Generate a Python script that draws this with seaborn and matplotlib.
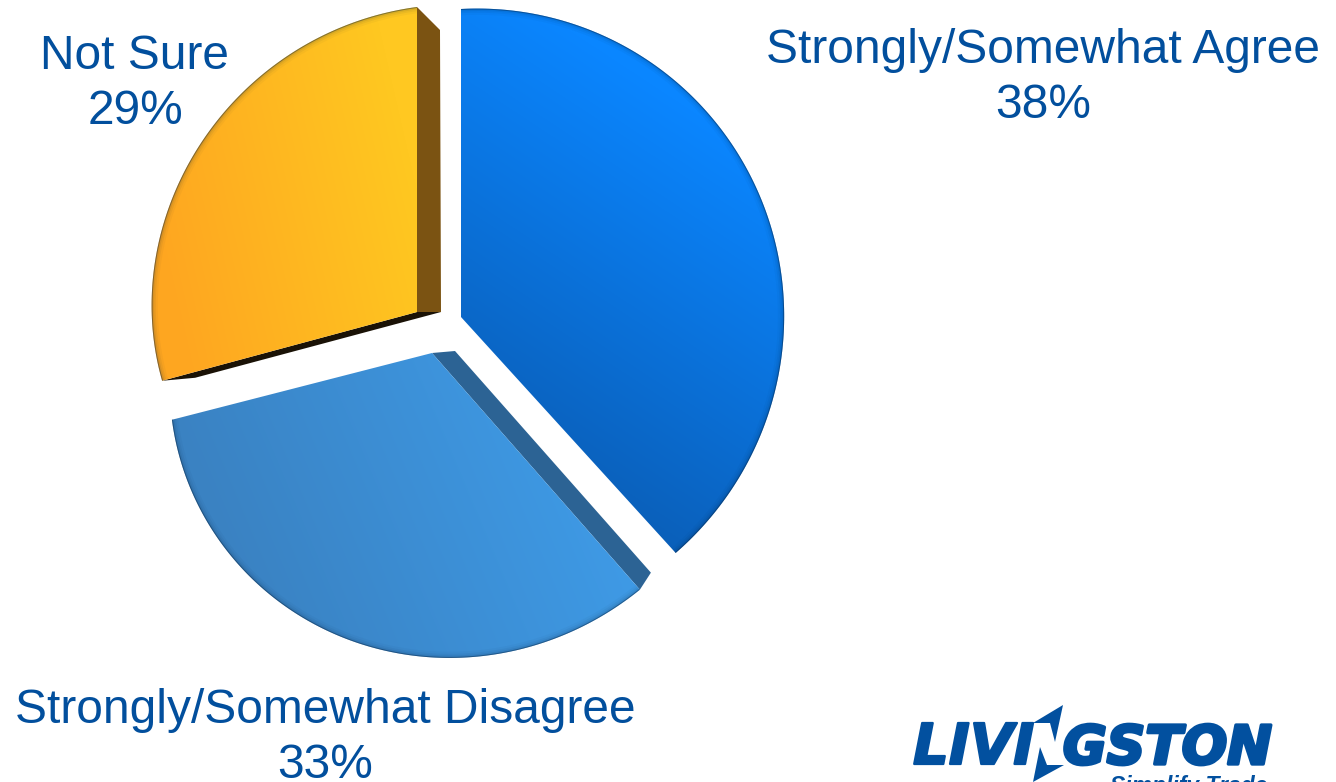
import numpy as np
import seaborn as sns
import matplotlib
matplotlib.use("Agg")
import matplotlib.pyplot as plt
import matplotlib.patheffects as pe
from matplotlib.patches import Polygon

# values
labels = ["Strongly/Somewhat Agree", "Strongly/Somewhat Disagree", "Not Sure"]
values = [38, 33, 29]

W, H = 1336, 782
TEXT_BLUE = "#024f9d"

# face of each slice in pixels: apex, radius at both rim ends, bulge of the rim,
# small angle shifts at the ends (the tilted pie is not a true circle)
faces = [
    dict(apex=(461, 317), r0=308, r1=319, bulge=9, da=(0, 0.9)),
    dict(apex=(432, 353), r0=315, r1=268.5, bulge=6.5, da=(1.9, 0)),
    dict(apex=(417, 312), r0=264, r1=305, bulge=-10.5, da=(-0.7, 0)),
]
# colour ramps: (colour a, colour b, point a, point b) in pixels
ramps = [
    ("#0a86ff", "#0a58ac", (770, 160), (520, 540)),
    ("#3f9dea", "#3a82c2", (610, 400), (230, 560)),
    ("#ffc821", "#fea620", (420, 200), (160, 260)),
]
# side walls: owner slice, colour, which rim end, offsets of apex and rim corners
walls = [
    (1, "#2c6394", 0, (23, -2), (11, -17)),
    (2, "#7b5312", 1, (24, 0), (23, 23)),
    (2, "#1a1206", 0, (24, 0), (33, -3)),
]

sns.set_theme(style="white")
plt.rcParams["font.family"] = ["Liberation Sans", "DejaVu Sans"]

fig = plt.figure(figsize=(W / 100, H / 100), dpi=100)
ax = fig.add_axes([0, 0, 1, 1])

wedges, _ = ax.pie(values, startangle=90, counterclock=False)


def clock_range(i):
    # pie angles are counter clockwise from east, the rim goes clockwise from the top
    a0 = (90 - wedges[i].theta2) % 360
    a1 = a0 + (wedges[i].theta2 - wedges[i].theta1)
    return a0 + faces[i]["da"][0], a1 + faces[i]["da"][1]


def rim(i, t):
    f = faces[i]
    a0, a1 = clock_range(i)
    ang = np.radians(a0 + (a1 - a0) * t)
    r = f["r0"] + (f["r1"] - f["r0"]) * t + f["bulge"] * np.sin(np.pi * t)
    return f["apex"][0] + r * np.sin(ang), f["apex"][1] - r * np.cos(ang)


yy, xx = np.mgrid[0:H, 0:W]
for i, wedge in enumerate(wedges):
    wedge.set_visible(False)
    rim_x, rim_y = rim(i, np.linspace(0, 1, 240))
    ox, oy = faces[i]["apex"]
    face = Polygon(np.column_stack([np.r_[ox, rim_x], np.r_[oy, rim_y]]), closed=True,
                   fc="none", ec="none", zorder=3)
    ax.add_patch(face)

    c0, c1, p0, p1 = ramps[i]
    cmap = sns.blend_palette([c0, c1], n_colors=64, as_cmap=True)
    vx, vy = p1[0] - p0[0], p1[1] - p0[1]
    t = ((xx - p0[0]) * vx + (yy - p0[1]) * vy) / (vx * vx + vy * vy)
    im = ax.imshow(np.clip(t, 0, 1), cmap=cmap, vmin=0, vmax=1, extent=(0, W, H, 0),
                   zorder=3, interpolation="bilinear")
    im.set_clip_path(face)

    # dark soft rim along the curved edge only
    for lw, alpha in [(9, 0.03), (6, 0.05), (3.5, 0.08), (1.4, 0.42)]:
        line, = ax.plot(rim_x, rim_y, color="#06223f", lw=lw, alpha=alpha, zorder=4)
        line.set_clip_path(face)

for i, color, end, off_a, off_r in walls:
    ox, oy = faces[i]["apex"]
    rx, ry = rim(i, float(end))
    ax.add_patch(Polygon([(ox, oy), (ox + off_a[0], oy + off_a[1]),
                          (rx + off_r[0], ry + off_r[1]), (rx, ry)],
                         closed=True, fc=color, ec="none", zorder=2))

# labels
ax.text(1043, 78, f"{labels[0]}\n{values[0]}%", color=TEXT_BLUE, fontsize=34.5,
        ha="center", va="center", linespacing=1.27)
ax.text(325, 738, f"{labels[1]}\n{values[1]}%", color=TEXT_BLUE, fontsize=34.5,
        ha="center", va="center", linespacing=1.27)
ax.text(135, 84, f"{labels[2]}\n{values[2]}%", color=TEXT_BLUE, fontsize=34.5,
        ha="center", va="center", linespacing=1.27)

# logo
LOGO = "#02509f"
ax.text(913, 764, "LIVI", color=LOGO, fontsize=40.5, family="DejaVu Sans", fontweight="bold",
        style="italic", ha="left", va="baseline", zorder=5,
        path_effects=[pe.withStroke(linewidth=1.6, foreground=LOGO)])
ax.text(1272, 764, "GSTON", color=LOGO, fontsize=38.5, family="DejaVu Sans", fontweight="bold",
        style="italic", ha="right", va="baseline", zorder=5,
        path_effects=[pe.withStroke(linewidth=2.4, foreground=LOGO)])
ax.add_patch(Polygon([(1033, 723), (1063, 705), (1055, 742), (1050, 723)],
                     closed=True, fc=LOGO, ec="none", zorder=5))
ax.add_patch(Polygon([(1040, 747), (1047, 765), (1064, 765), (1033, 782)],
                     closed=True, fc=LOGO, ec="none", zorder=5))
ax.text(1189, 793, "Simplify Trade", color=LOGO, fontsize=16.5, fontweight="bold", style="italic",
        ha="center", va="baseline", zorder=5)

ax.set_xlim(0, W)
ax.set_ylim(H, 0)
ax.set_aspect("auto")
ax.axis("off")

fig.savefig("out.png", dpi=100)
